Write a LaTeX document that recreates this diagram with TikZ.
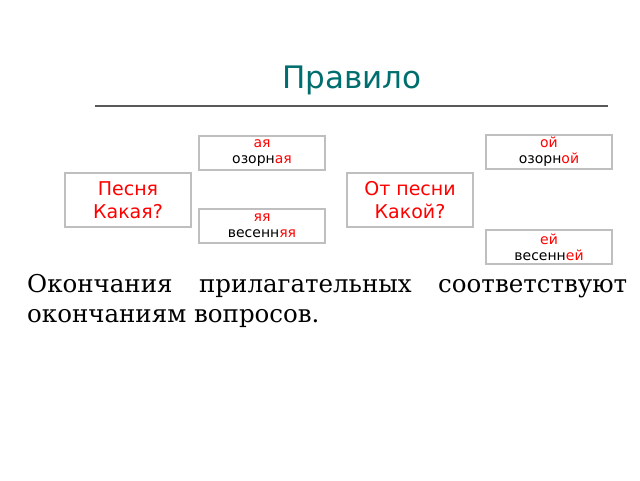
\documentclass[tikz,border=0pt]{standalone}
\usepackage{fontspec}
\setmainfont{DejaVu Serif}
\setsansfont{DejaVu Sans}
\begin{document}
\begin{tikzpicture}[x=1pt,y=-1pt,
 box/.style={draw=black!25,line width=2.4pt,fill=white,minimum width=126pt,inner sep=1pt,align=center,font=\sffamily},
 big/.style={box,minimum height=54pt,font=\sffamily\fontsize{19}{23}\selectfont,text=red},
 small/.style={box,minimum height=34pt,font=\sffamily\fontsize{14}{16}\selectfont}]
\useasboundingbox (0,0) rectangle (640,480);
\node[font=\sffamily\fontsize{31}{34}\selectfont,text={rgb,255:red,0;green,110;blue,110}] (t) at (352,80) {Правило};
\coordinate (l1) at (95,106); \coordinate (l2) at (608,106);
\draw[black!65,line width=1.4pt] (l1) -- (l2);
\node[big] (p) at (128,200) {Песня\\Какая?};
\node[small] (a) at (262,153) {\textcolor{red}{ая}\\озорн\textcolor{red}{ая}};
\node[small] (y) at (262,226) {\textcolor{red}{яя}\\весенн\textcolor{red}{яя}};
\node[big] (o) at (410,200) {От песни\\Какой?};
\node[small] (oi) at (549,152) {\textcolor{red}{ой}\\озорн\textcolor{red}{ой}};
\node[small] (ei) at (549,247) {\textcolor{red}{ей}\\весенн\textcolor{red}{ей}};
\node[anchor=north west,inner sep=0pt,text width=600pt,align=justify,font=\fontsize{24.5}{30}\selectfont] (txt) at (27,274) {Окончания прилагательных соответствуют окончаниям вопросов.};
\end{tikzpicture}
\end{document}
